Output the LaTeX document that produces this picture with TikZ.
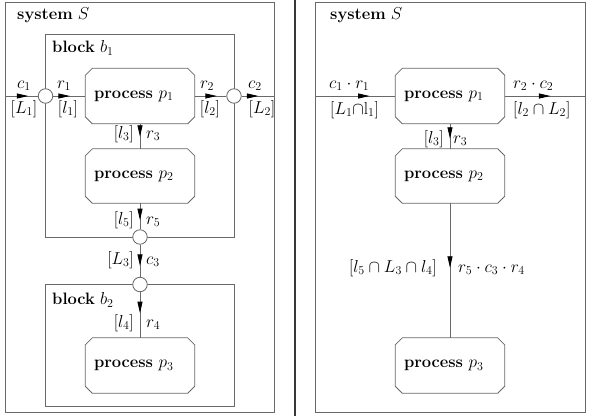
\documentclass[tikz,border=0pt]{standalone}
\usetikzlibrary{arrows.meta,decorations.markings}
\definecolor{ln}{RGB}{105,105,105}
\definecolor{sepc}{RGB}{55,55,55}
\newcommand\chamfbox[1]{%
  \draw[frame] ([xshift=7pt]#1.north west) -- ([xshift=-7pt]#1.north east)
    -- ([yshift=-7pt]#1.north east) -- ([yshift=7pt]#1.south east)
    -- ([xshift=-7pt]#1.south east) -- ([xshift=7pt]#1.south west)
    -- ([yshift=7pt]#1.south west) -- ([yshift=-7pt]#1.north west) -- cycle;}
\begin{document}
\begin{tikzpicture}[x=1pt,y=-1pt,
  font=\fontsize{16.5}{20}\selectfont,
  frame/.style={draw=ln,line width=0.85pt},
  proc/.style={rectangle, minimum width=109pt, minimum height=55pt, inner sep=0pt,
    text width=92pt, align=left},
  port/.style={circle,draw=ln,line width=0.85pt,minimum size=14.5pt,inner sep=0pt,fill=white},
  lbl/.style={inner sep=0pt},
  flow/.style={draw=ln,line width=0.85pt,postaction={decorate},
    decoration={markings,mark=at position #1 with {\arrow{Triangle[length=11.5pt,width=5pt,color=black]}}}},
]
\useasboundingbox (0,0) rectangle (589,416);
% separator
\draw[sepc,line width=2.2pt] (294.7,0) -- (294.7,416);
% ---------------- left panel ----------------
\draw[frame] (5,2) rectangle (274.5,412.5);
\node[lbl,anchor=west] (sysl) at (17,15) {\textbf{system} $S$};
\draw[frame] (45,34) rectangle (234,237);
\node[lbl,anchor=west] (b1l) at (52,48) {\textbf{block} $b_1$};
\draw[frame] (45,284.5) rectangle (234,406);
\node[lbl,anchor=west] (b2l) at (52,300) {\textbf{block} $b_2$};

\node[proc] (p1) at (140,96) {\textbf{process} $p_1$};
\node[proc,minimum height=54pt] (p2) at (140,176) {\textbf{process} $p_2$};
\node[proc] (p3) at (140,365.5) {\textbf{process} $p_3$};
\chamfbox{p1}\chamfbox{p2}\chamfbox{p3}

\coordinate (inL) at (5,96);
\coordinate (outL) at (274.5,96);
\node[port] (j1) at (45.5,96) {};
\node[port] (j2) at (234,96) {};
\node[port] (j3) at (140,237) {};
\node[port] (j4) at (140,284.5) {};

\draw[flow=0.71] (inL) -- (j1);
\draw[flow=0.52] (j1) -- (p1);
\draw[flow=0.70] (p1) -- (j2);
\draw[flow=0.51] (j2) -- (outL);
\draw[flow=0.52] (p1) -- (p2);
\draw[flow=0.65] (p2) -- (j3);
\draw[flow=0.66] (j3) -- (j4);
\draw[flow=0.46] (j4) -- (p3);

\node[lbl,anchor=base] (lc1) at (24,88) {$c_1$};
\node[lbl,anchor=base] (lL1) at (24,113) {$[L_1]$};
\node[lbl,anchor=base] (lr1) at (64,88) {$r_1$};
\node[lbl,anchor=base] (ll1) at (68,113) {$[l_1]$};
\node[lbl,anchor=base] (lr2) at (207,88) {$r_2$};
\node[lbl,anchor=base] (ll2) at (210,113) {$[l_2]$};
\node[lbl,anchor=base] (lc2) at (255,88) {$c_2$};
\node[lbl,anchor=base] (lL2) at (262,113) {$[L_2]$};

\node[lbl,anchor=base east] (ll3) at (134,138) {$[l_3]$};
\node[lbl,anchor=base west] (lr3) at (146,138) {$r_3$};
\node[lbl,anchor=base east] (ll5) at (134,224) {$[l_5]$};
\node[lbl,anchor=base west] (lr5) at (146,224) {$r_5$};
\node[lbl,anchor=base east] (lL3) at (134,264) {$[L_3]$};
\node[lbl,anchor=base west] (lc3) at (146,264) {$c_3$};
\node[lbl,anchor=base east] (ll4) at (134,327) {$[l_4]$};
\node[lbl,anchor=base west] (lr4) at (146,327) {$r_4$};

% ---------------- right panel ----------------
\draw[frame] (315,2) rectangle (585,412.5);
\node[lbl,anchor=west] (sysr) at (330,15) {\textbf{system} $S$};
\node[proc] (q1) at (450,96) {\textbf{process} $p_1$};
\node[proc,minimum height=54pt] (q2) at (450,176) {\textbf{process} $p_2$};
\node[proc] (q3) at (450,365.5) {\textbf{process} $p_3$};
\chamfbox{q1}\chamfbox{q2}\chamfbox{q3}
\coordinate (inR) at (315,96);
\coordinate (outR) at (585,96);

\draw[flow=0.68] (inR) -- (q1);
\draw[flow=0.57] (q1) -- (outR);
\draw[flow=0.6] (q1) -- (q2);
\draw[flow=0.48] (q2) -- (q3);

\node[lbl,anchor=base west] (rc1) at (329,88) {$c_1\cdot r_1$};
\node[lbl,anchor=base west] (rL1) at (330,114) {$[L_1{\cap}\mathrm{l}_1]$};
\node[lbl,anchor=base west] (rr2) at (513,88) {$r_2\cdot c_2$};
\node[lbl,anchor=base west] (rl2) at (513,114) {$[l_2\cap L_2]$};
\node[lbl,anchor=base east] (rl3) at (444,143) {$[l_3]$};
\node[lbl,anchor=base west] (rr3) at (453,143) {$r_3$};
\node[lbl,anchor=base east] (rl5) at (437,272) {$[l_5\cap L_3\cap l_4]$};
\node[lbl,anchor=base west] (rr5) at (458,272) {$r_5\cdot c_3\cdot r_4$};
\end{tikzpicture}
\end{document}
